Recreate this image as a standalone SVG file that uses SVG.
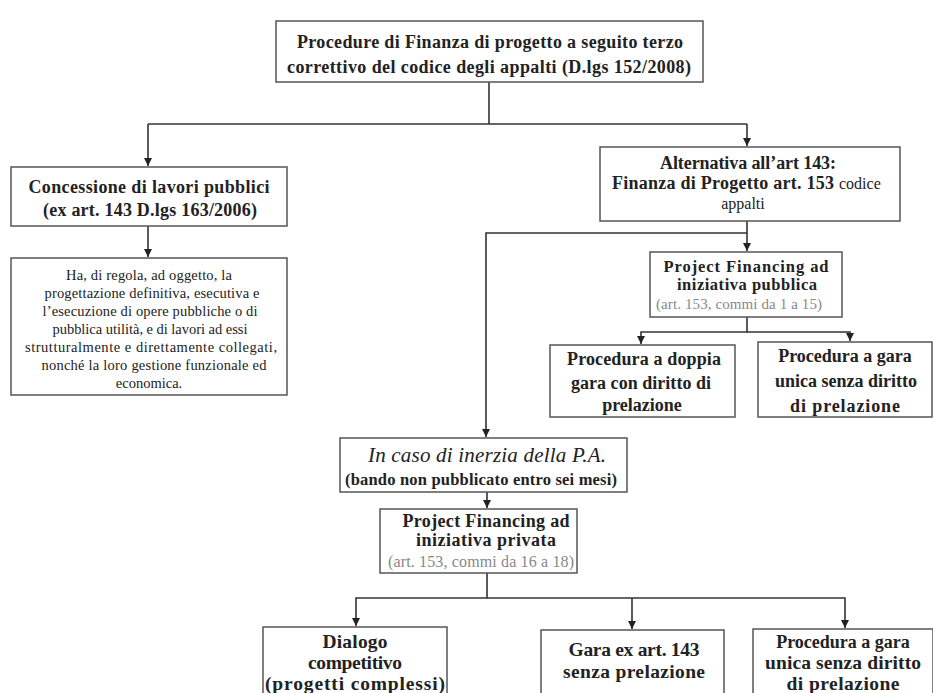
<svg xmlns="http://www.w3.org/2000/svg" width="933" height="693" viewBox="0 0 933 693">
<style>
.box{fill:#fff;stroke:#555;stroke-width:1.5}
.ln{fill:none;stroke:#333;stroke-width:1.6}
text{font-family:"Liberation Serif","Times New Roman",serif;fill:#222;text-anchor:middle}
.b18{font-size:18px;font-weight:bold}
.b17{font-size:17px;font-weight:bold}
.b20{font-size:19.5px;font-weight:bold}
.b16{font-size:16.5px;font-weight:bold}
.r16{font-size:16px}
.r15{font-size:14.5px}
.g15{font-size:15px;fill:#888}
.g16{font-size:16px;fill:#888}
.i21{font-size:21px;font-style:italic}
.st{text-anchor:start}
</style>
<defs>
<marker id="ah" viewBox="0 0 10 10" refX="10" refY="5" markerWidth="8" markerHeight="8" markerUnits="userSpaceOnUse" orient="auto">
<path d="M0,0 L10,5 L0,10 Z" fill="#222"/>
</marker>
</defs>
<g id="connectors">
<path class="ln" d="M489,82 V124"/>
<path class="ln" d="M148,124 H747"/>
<path class="ln" d="M148,124 V166" marker-end="url(#ah)"/>
<path class="ln" d="M747,124 V146" marker-end="url(#ah)"/>
<path class="ln" d="M148,226 V257" marker-end="url(#ah)"/>
<path class="ln" d="M747,221 V251" marker-end="url(#ah)"/>
<path class="ln" d="M747,233 H486 V437" marker-end="url(#ah)"/>
<path class="ln" d="M747,317 V332 H641 V344" marker-end="url(#ah)"/>
<path class="ln" d="M747,332 H850 V341" marker-end="url(#ah)"/>
<path class="ln" d="M487,492 V508" marker-end="url(#ah)"/>
<path class="ln" d="M487,573 V598 H356 V626" marker-end="url(#ah)"/>
<path class="ln" d="M487,598 H845 V628" marker-end="url(#ah)"/>
<path class="ln" d="M632,598 V629" marker-end="url(#ah)"/>
</g>
<g id="n-top">
<rect class="box" x="276" y="21" width="427" height="61"/>
<text class="b18" x="490" y="48" textLength="386">Procedure di Finanza di progetto a seguito terzo</text>
<text class="b18" x="489" y="73" textLength="404">correttivo del codice degli appalti (D.lgs 152/2008)</text>
</g>
<g id="n-concessione">
<rect class="box" x="11" y="167" width="276" height="59"/>
<text class="b18" x="149" y="193" textLength="241">Concessione di lavori pubblici</text>
<text class="b18" x="150" y="216" textLength="214">(ex art. 143 D.lgs 163/2006)</text>
</g>
<g id="n-descr">
<rect class="box" x="11" y="258" width="276" height="137"/>
<text class="r15" x="149" y="280" textLength="166">Ha, di regola, ad oggetto, la</text>
<text class="r15" x="152" y="298" textLength="215">progettazione definitiva, esecutiva e</text>
<text class="r15" x="150" y="316" textLength="215">l’esecuzione di opere pubbliche o di</text>
<text class="r15" x="150" y="334" textLength="195">pubblica utilità, e di lavori ad essi</text>
<text class="r15" x="151" y="352" textLength="252">strutturalmente e direttamente collegati,</text>
<text class="r15" x="154" y="370" textLength="225">nonché la loro gestione funzionale ed</text>
<text class="r15" x="149" y="388">economica.</text>
</g>
<g id="n-alternativa">
<rect class="box" x="600" y="147" width="300" height="74"/>
<text class="b18" x="748" y="169" textLength="176">Alternativa all’art 143:</text>
<text class="b18 st" x="612" y="189" textLength="222">Finanza di Progetto art. 153</text>
<text class="r16 st" x="839" y="189">codice</text>
<text class="r16" x="743" y="209">appalti</text>
</g>
<g id="n-pf-pubblica">
<rect class="box" x="650" y="252" width="192" height="65"/>
<text class="b16" x="746" y="272" textLength="165">Project Financing ad</text>
<text class="b16" x="747" y="290" textLength="140">iniziativa pubblica</text>
<text class="g15" x="739" y="309" textLength="166">(art. 153, commi da 1 a 15)</text>
</g>
<g id="n-doppia">
<rect class="box" x="550" y="345" width="185" height="72"/>
<text class="b18" x="644" y="365" textLength="154">Procedura a doppia</text>
<text class="b18" x="641" y="389" textLength="140">gara con diritto di</text>
<text class="b18" x="642" y="411">prelazione</text>
</g>
<g id="n-unica1">
<rect class="box" x="758" y="342" width="174" height="75"/>
<text class="b18" x="845" y="362">Procedura a gara</text>
<text class="b18" x="846" y="387" textLength="142">unica senza diritto</text>
<text class="b18" x="845" y="412" textLength="110">di prelazione</text>
</g>
<g id="n-inerzia">
<rect class="box" x="340" y="438" width="287" height="54"/>
<text class="i21" x="487" y="462" textLength="238">In caso di inerzia della P.A.</text>
<text class="b16" x="481" y="485" textLength="272">(bando non pubblicato entro sei mesi)</text>
</g>
<g id="n-pf-privata">
<rect class="box" x="380" y="509" width="197" height="64"/>
<text class="b18" x="486" y="527" textLength="167">Project Financing ad</text>
<text class="b18" x="486" y="546" textLength="140">iniziativa privata</text>
<text class="g16" x="481" y="567" textLength="186">(art. 153, commi da 16 a 18)</text>
</g>
<g id="n-dialogo">
<rect class="box" x="263" y="627" width="184" height="80"/>
<text class="b20" x="355" y="648" textLength="65">Dialogo</text>
<text class="b20" x="355" y="669" textLength="94">competitivo</text>
<text class="b20" x="355" y="690" textLength="180">(progetti complessi)</text>
</g>
<g id="n-gara143">
<rect class="box" x="541" y="630" width="183" height="80"/>
<text class="b20" x="634" y="656" textLength="131">Gara ex art. 143</text>
<text class="b20" x="634" y="678" textLength="142">senza prelazione</text>
</g>
<g id="n-unica2">
<rect class="box" x="753" y="629" width="180" height="80"/>
<text class="b18" x="843" y="648">Procedura a gara</text>
<text class="b20" x="843" y="669" textLength="156">unica senza diritto</text>
<text class="b20" x="843" y="690" textLength="113">di prelazione</text>
</g>
</svg>
